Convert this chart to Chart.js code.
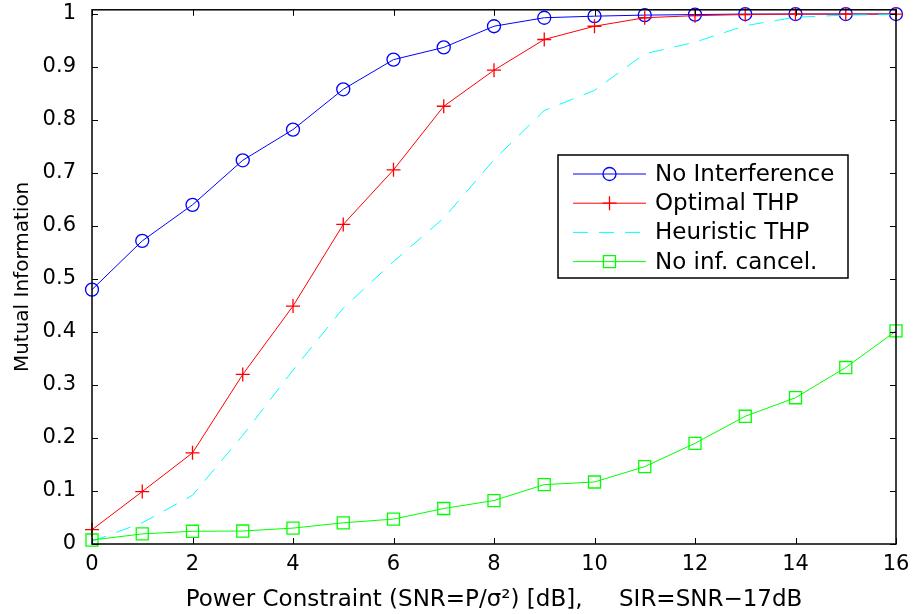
<!DOCTYPE html>
<html>
<head>
<meta charset="utf-8">
<script src="https://cdn.jsdelivr.net/npm/chart.js@4/dist/chart.umd.min.js"></script>
<style>
  body { margin: 0; background: #fff; }
  canvas { display: block; }
</style>
</head>
<body>
<canvas id="chart" width="915" height="614"></canvas>
<script>
// SNR in dB (x axis)
const snr = [0, 1, 2, 3, 4, 5, 6, 7, 8, 9, 10, 11, 12, 13, 14, 15, 16];

// mutual information per scheme
const noInterference = [0.480, 0.572, 0.640, 0.724, 0.782, 0.858, 0.914, 0.937, 0.977, 0.993, 0.996, 0.998, 0.999, 1.0, 1.0, 1.0, 1.0];
const optimalTHP = [0.027, 0.099, 0.172, 0.320, 0.449, 0.603, 0.706, 0.826, 0.894, 0.952, 0.977, 0.993, 0.997, 0.999, 1.0, 1.0, 1.0];
const heuristicTHP = [0.005, 0.040, 0.092, 0.205, 0.328, 0.445, 0.533, 0.615, 0.725, 0.818, 0.856, 0.925, 0.947, 0.978, 0.994, 0.998, 0.999];
const noCancel = [0.0075, 0.019, 0.024, 0.0245, 0.030, 0.040, 0.047, 0.067, 0.082, 0.112, 0.117, 0.146, 0.190, 0.241, 0.276, 0.333, 0.402];

const seriesLabels = ['No Interference', 'Optimal THP', 'Heuristic THP', 'No inf. cancel.'];

// axis ticks
const xTicks = [0, 2, 4, 6, 8, 10, 12, 14, 16];
const yTicks = [0, 0.1, 0.2, 0.3, 0.4, 0.5, 0.6, 0.7, 0.8, 0.9, 1];
const yTickLabels = ['0', '0.1', '0.2', '0.3', '0.4', '0.5', '0.6', '0.7', '0.8', '0.9', '1'];

const xTitle = 'Power Constraint (SNR=P/\u03c3\u00b2) [dB],     SIR=SNR\u221217dB';
const yTitle = 'Mutual Information';

const FONT = '"DejaVu Sans", sans-serif';

function points(values) {
    return snr.map((x, i) => ({ x: x, y: values[i] }));
}

/**
 * Box frame with inward tick marks on all four sides (MATLAB style)
 */
const framePlugin = {
    id: 'frame',
    afterDatasetsDraw(chart) {
        const ctx = chart.ctx;
        const a = chart.chartArea;
        const xs = chart.scales.x;
        const ys = chart.scales.y;
        const len = 6;
        ctx.save();
        ctx.strokeStyle = '#000';
        ctx.lineWidth = 1.5;
        ctx.strokeRect(a.left, a.top, a.right - a.left, a.bottom - a.top);
        ctx.lineWidth = 1;
        ctx.beginPath();
        xTicks.forEach(v => {
            const px = Math.round(xs.getPixelForValue(v)) + 0.5;
            ctx.moveTo(px, a.bottom); ctx.lineTo(px, a.bottom - len);
            ctx.moveTo(px, a.top); ctx.lineTo(px, a.top + len);
        });
        yTicks.forEach(v => {
            const py = Math.round(ys.getPixelForValue(v)) + 0.5;
            ctx.moveTo(a.left, py); ctx.lineTo(a.left + len, py);
            ctx.moveTo(a.right, py); ctx.lineTo(a.right - len, py);
        });
        ctx.stroke();
        ctx.restore();
    }
};

/**
 * Boxed legend inside the plot, right side
 */
const legendPlugin = {
    id: 'boxLegend',
    afterDraw(chart) {
        const ctx = chart.ctx;
        const bx = 558, by = 155, bw = 290, bh = 123;
        ctx.save();
        ctx.fillStyle = '#fff';
        ctx.fillRect(bx, by, bw, bh);
        ctx.strokeStyle = '#000';
        ctx.lineWidth = 1.5;
        ctx.strokeRect(bx, by, bw, bh);
        ctx.font = '23px ' + FONT;
        ctx.textBaseline = 'middle';
        chart.data.datasets.forEach((ds, i) => {
            const y = 174 + i * 29.2;
            ctx.strokeStyle = ds.borderColor;
            ctx.lineWidth = ds.borderWidth;
            ctx.setLineDash(ds.borderDash || []);
            ctx.beginPath();
            ctx.moveTo(573, y);
            ctx.lineTo(646, y);
            ctx.stroke();
            ctx.setLineDash([]);
            if (ds.pointRadius > 0) {
                ctx.strokeStyle = ds.borderColor;
                ctx.fillStyle = 'rgba(0,0,0,0)';
                ctx.lineWidth = ds.pointBorderWidth;
                Chart.helpers.drawPoint(ctx, {
                    pointStyle: ds.pointStyle,
                    radius: ds.pointRadius,
                    borderWidth: ds.pointBorderWidth,
                    rotation: 0
                }, 609.5, y);
            }
            ctx.fillStyle = '#000';
            ctx.fillText(ds.label, 655, y + 1);
        });
        ctx.restore();
    }
};

const baseDataset = {
    borderWidth: 1,
    pointBorderWidth: 1.3,
    pointBackgroundColor: 'rgba(0,0,0,0)',
    tension: 0,
    fill: false,
    clip: false
};

new Chart(document.getElementById('chart'), {
    type: 'line',
    data: {
        datasets: [
            {
                ...baseDataset,
                label: seriesLabels[0],
                data: points(noInterference),
                borderColor: '#0000ff',
                pointBorderColor: '#0000ff',
                pointStyle: 'circle',
                pointRadius: 6.5,
                order: 4
            },
            {
                ...baseDataset,
                label: seriesLabels[1],
                data: points(optimalTHP),
                borderColor: '#ff0000',
                pointBorderColor: '#ff0000',
                pointStyle: 'cross',
                pointRadius: 7,
                order: 3
            },
            {
                ...baseDataset,
                label: seriesLabels[2],
                data: points(heuristicTHP),
                borderColor: '#00ffff',
                borderDash: [15, 11],
                pointRadius: 0,
                order: 2
            },
            {
                ...baseDataset,
                label: seriesLabels[3],
                data: points(noCancel),
                borderColor: '#00ff00',
                pointBorderColor: '#00ff00',
                pointStyle: 'rect',
                pointRadius: 8.5,
                order: 1
            }
        ]
    },
    options: {
        responsive: false,
        animation: false,
        events: [],
        layout: {
            padding: { top: 9, right: 19, left: 0, bottom: 0 }
        },
        plugins: {
            legend: { display: false },
            tooltip: { enabled: false }
        },
        scales: {
            x: {
                type: 'linear',
                min: 0,
                max: 16,
                grid: { display: false },
                border: { display: false },
                afterBuildTicks: scale => {
                    scale.ticks = xTicks.map(v => ({ value: v }));
                },
                afterFit: scale => {
                    scale.height = 70;
                    scale.paddingLeft = 0;
                    scale.paddingRight = 0;
                },
                ticks: {
                    color: '#000',
                    padding: 0,
                    maxRotation: 0,
                    autoSkip: false,
                    font: { family: FONT, size: 21 },
                    callback: v => String(v)
                },
                title: {
                    display: true,
                    text: xTitle,
                    color: '#000',
                    padding: { top: 0, bottom: 0 },
                    font: { family: FONT, size: 23 }
                }
            },
            y: {
                type: 'linear',
                min: 0,
                max: 1.008,
                grid: { display: false },
                border: { display: false },
                afterBuildTicks: scale => {
                    scale.ticks = yTicks.map(v => ({ value: v }));
                },
                afterFit: scale => {
                    scale.width = 92;
                    scale.paddingTop = 0;
                    scale.paddingBottom = 0;
                },
                ticks: {
                    color: '#000',
                    padding: 8,
                    autoSkip: false,
                    font: { family: FONT, size: 21 },
                    callback: v => yTickLabels[yTicks.indexOf(v)]
                },
                title: {
                    display: true,
                    text: yTitle,
                    color: '#000',
                    padding: { top: 11, bottom: 0 },
                    font: { family: FONT, size: 20 }
                }
            }
        }
    },
    plugins: [framePlugin, legendPlugin]
});
</script>
</body>
</html>
